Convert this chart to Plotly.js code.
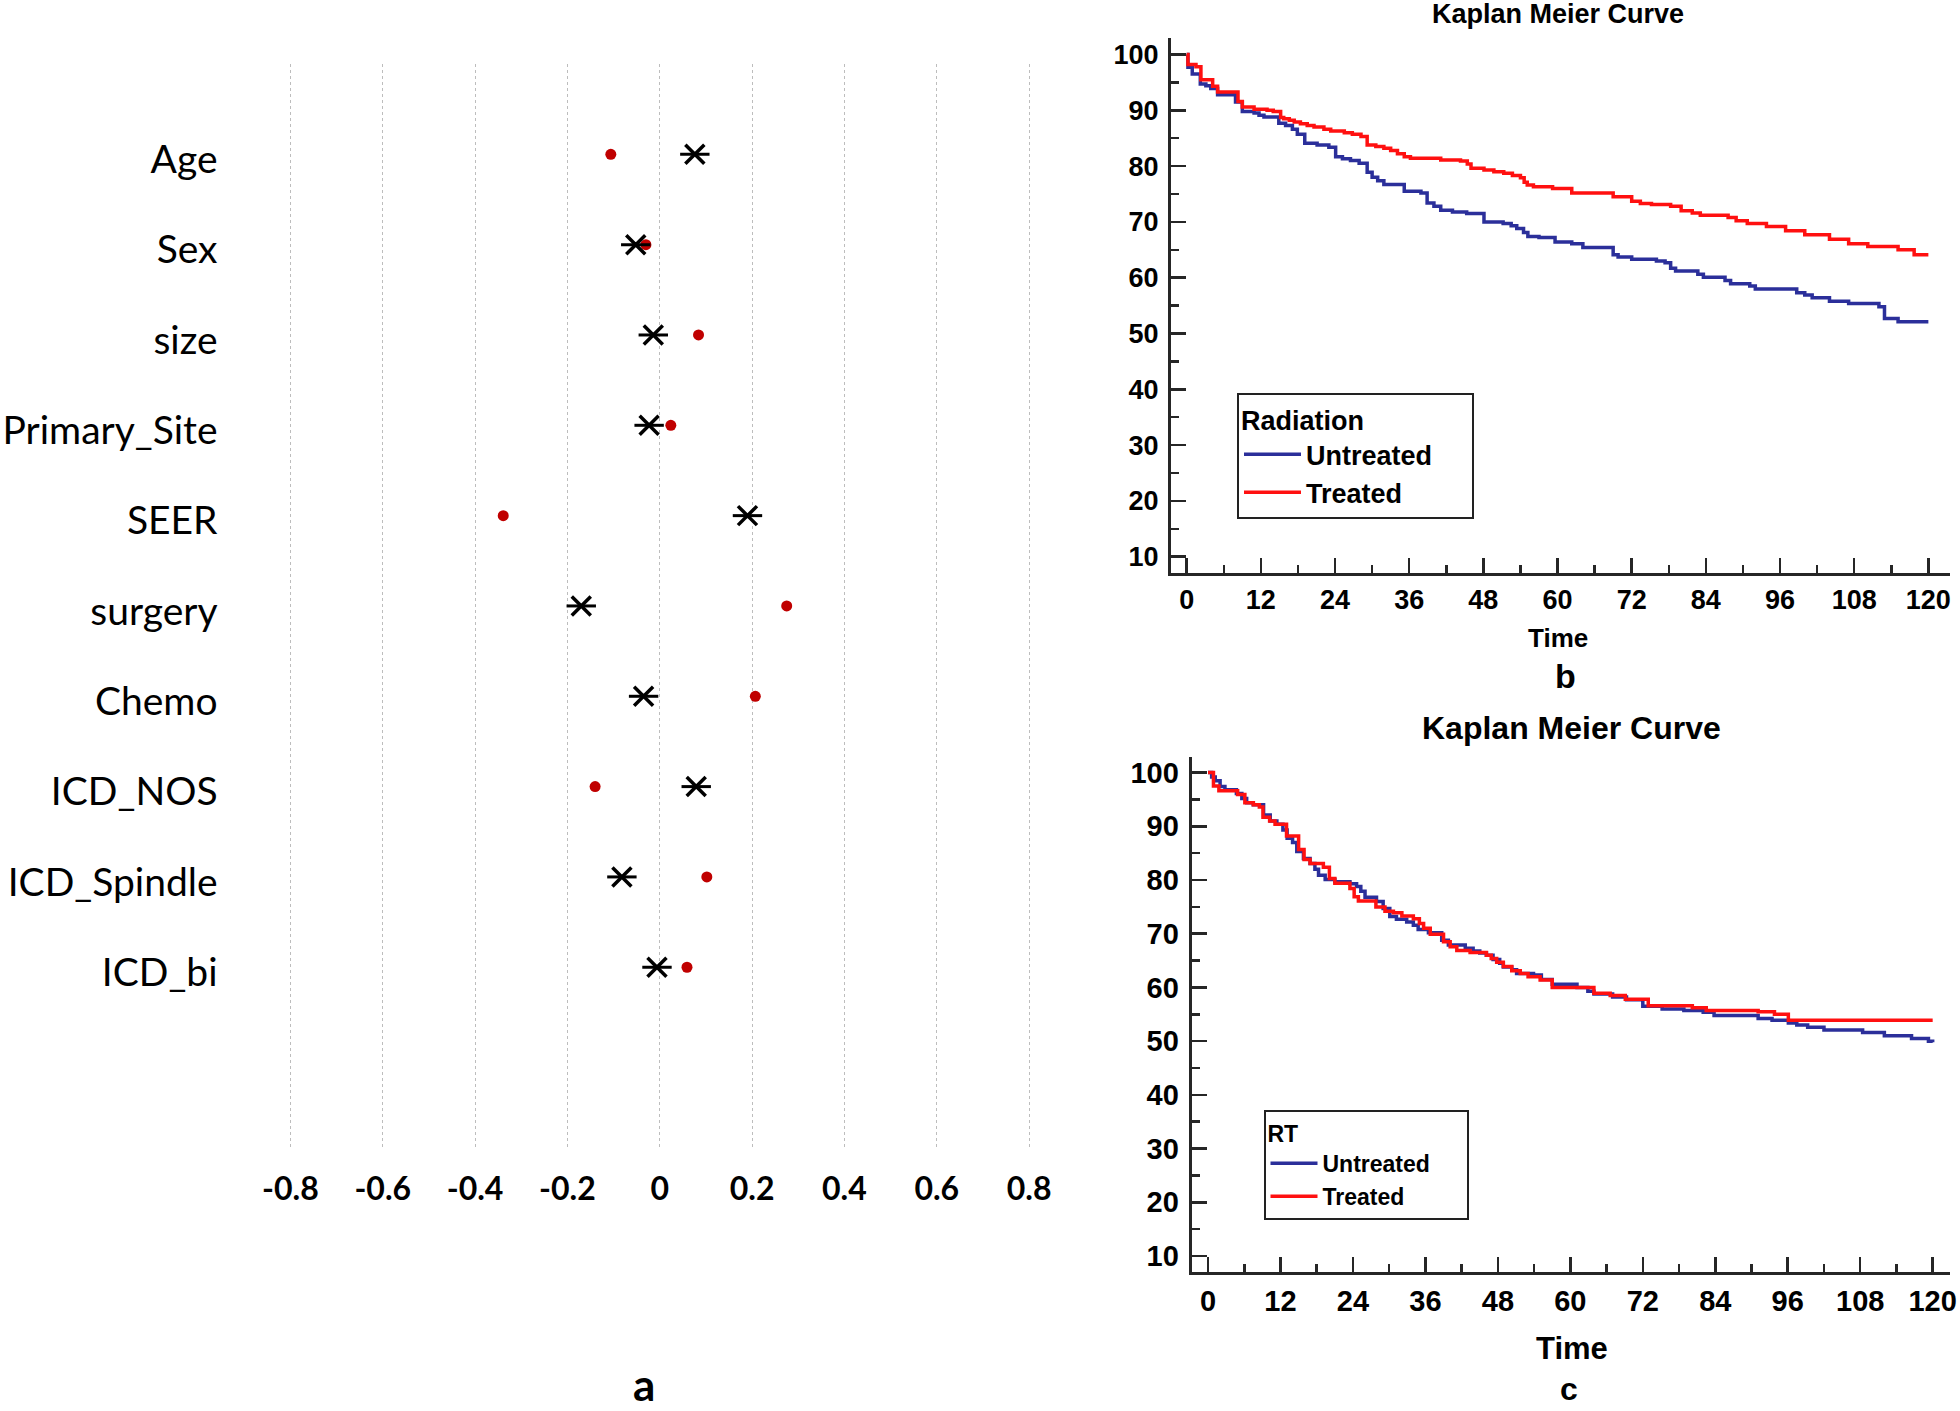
<!DOCTYPE html>
<html>
<head>
<meta charset="utf-8">
<script src="https://cdn.plot.ly/plotly-3.0.1.min.js"></script>
<style>html,body{margin:0;padding:0;background:#fff;}#chart{width:1960px;height:1411px;}</style>
</head>
<body>
<div id="chart"></div>
<script>
// ---------- Panel a data ----------
const categories = ['Age','Sex','size','Primary_Site','SEER','surgery','Chemo','ICD_NOS','ICD_Spindle','ICD_bi'];
const redDotValues = [-0.106,-0.030,0.084,0.024,-0.339,0.275,0.207,-0.140,0.102,0.059];
const crossValues  = [0.076,-0.052,-0.014,-0.023,0.190,-0.170,-0.035,0.079,-0.082,-0.006];
const aTickVals  = [-0.8,-0.6,-0.4,-0.2,0,0.2,0.4,0.6,0.8];
const aTickText  = ['-0.8','-0.6','-0.4','-0.2','0','0.2','0.4','0.6','0.8'];

// ---------- Panel b data (Radiation) ----------
const bUntreatedTime = [0,0.2,0.9,2.2,3.1,3.9,5,7.9,9,10.9,11.7,12.5,14.9,16,17.1,17.9,19.1,21.1,23,24.1,25.2,26.5,27.9,29.2,30,30.9,31.9,35.2,37.9,38.9,40,41.1,43,45.3,48.1,51.2,52.5,53.4,54.5,55.2,57,59.6,62.3,64.1,69,69.8,72,76,77.4,78.3,79.1,82.7,83.6,87.1,88,91.1,92,98.7,100,101.2,104,107.1,112,112.9,115.1,120];
const bUntreatedSurv = [100,97.7,96.5,94.7,94.4,93.9,92.8,91.5,89.8,89.5,89.1,88.8,87.7,87.3,86.6,85.7,84.1,83.8,83.4,81.7,81.3,81,80.5,78.9,78,77.4,76.7,75.5,75.2,73.4,72.8,72.1,71.8,71.5,70,69.7,69.3,68.8,68.1,67.4,67.2,66.4,66.1,65.4,64.1,63.7,63.3,63,62.7,61.7,61.2,60.6,60.1,59.5,58.9,58.5,58,57.3,56.9,56.4,55.8,55.4,54.8,52.7,52.1,52.1];
const bTreatedTime = [0,0.2,1.5,2.3,4.2,5,8.3,9,10.9,13,14,15.2,15.7,16.6,17.4,18.4,19.5,20.6,22.2,23.3,25.5,26.8,28.2,29.2,30.6,31.9,33,34.1,35.2,36.2,41.1,44.3,45.4,46,48.1,49.7,51.3,52.7,54,54.6,55.1,56.1,59.2,62.3,69,72,73.4,75.2,78.3,80,81.8,83.1,87.6,88.9,90.7,93.8,96.9,100,104,107.1,110.2,115.1,117.7,120];
const bTreatedSurv = [100,98.2,97.8,95.5,94.3,93.3,91.6,90.6,90.2,90,89.8,88.7,88.5,88.2,87.9,87.6,87.3,87,86.6,86.3,86,85.7,85.3,83.8,83.5,83.2,82.8,82.2,81.7,81.4,81.1,80.9,80.4,79.6,79.3,79,78.7,78.3,77.9,77.1,76.6,76.3,76,75.2,74.5,73.7,73.3,73.1,72.8,72,71.6,71.2,70.8,70.2,69.7,69.2,68.4,67.7,66.9,66.1,65.6,65,64.1,64.1];

// ---------- Panel c data (RT) ----------
const cUntreatedTime = [0,0.6,1.2,2,2.8,4.7,5.6,6.4,7.5,9.2,10.3,11.4,12.4,13.1,14,14.7,15.8,16.9,17.7,18.3,19.4,21,23.5,24.6,25.3,26,27.9,29,30.1,31.2,32.9,34,34.8,36.5,38.7,39.8,42.6,43.9,45,46.1,47.2,48.3,48.9,50.3,51.1,53.9,55.2,57,61.1,62.9,63.9,67,69.3,72,75.2,78.8,82,83.8,91.1,93.4,96.1,97.5,99.3,102,108.4,112,116.5,119.3,120];
const cUntreatedSurv = [100,99.2,98.5,97.4,96.8,96.1,95.2,94.4,94,92.1,91,90.4,89.3,87.8,87,85.3,84,83.1,82,80.9,80.1,79.7,79.3,78.8,77.9,76.8,76,74.7,73.2,72.7,72.2,71.6,70.8,70.2,68.8,67.9,67.3,66.8,66.4,66,65.2,64.5,63.8,63.3,62.6,62.3,61.5,60.6,60,59.3,58.8,58.2,57.7,56.5,56,55.7,55.4,54.8,54.2,53.9,53.4,53,52.6,52.1,51.6,51,50.5,50,49.8];
const cTreatedTime = [0,0.9,1.8,4.9,6.1,7.5,8.5,9.1,10.2,11.1,13,15,15.9,16.9,19.1,20.1,21,23.5,24.2,24.9,27.8,29.3,30.7,32.1,34,35,35.7,36.8,39,40.1,41.2,43.4,46.1,46.9,47.8,48.9,50.3,51.7,53,55,57,63.9,66.6,69.1,72.9,80.2,82.5,91.1,93.8,96.1,120];
const cTreatedSurv = [100,97.5,96.6,95.9,94.4,94,93.6,91.7,91,90.4,88.2,85.7,83.8,83.1,82.4,80.3,79.4,78.4,76.9,76.1,75,74.2,73.9,73.3,72.8,71.9,71,69.9,68.5,67.6,66.9,66.5,66,65.4,64.7,63.9,63.1,62.6,62,61.4,60,58.9,58.5,57.8,56.6,56.2,55.7,55.5,55,53.9,53.9];

// ---------- layout helpers ----------
const W = 1960, H = 1411;
const px = v => v / W;
const py = v => 1 - v / H;
const BLUE = '#2b2f9a', RED = '#ff1010', AX = '#262626';
const ARIAL = 'Liberation Sans, Arial, sans-serif';
const LATO = 'Lato, Carlito, sans-serif';
const pad = n => '\u00a0'.repeat(n);   // invisible right padding inside legend boxes

const traces = [
  {type:'scatter', mode:'markers', x: redDotValues, y: categories, xaxis:'x', yaxis:'y', showlegend:false,
   marker:{symbol:'circle', size:11, color:'#c00000'}, hoverinfo:'x+y'},
  {type:'scatter', mode:'markers', x: crossValues, y: categories, xaxis:'x', yaxis:'y', showlegend:false,
   marker:{symbol:'x-thin-open', size:19, color:'#000', line:{color:'#000', width:3.5}}, hoverinfo:'x+y'},
  {type:'scatter', mode:'markers', x: crossValues, y: categories, xaxis:'x', yaxis:'y', showlegend:false,
   marker:{symbol:'line-ew-open', size:21, color:'#000', line:{color:'#000', width:3}}, hoverinfo:'skip'},
  {type:'scatter', mode:'lines', name:'Untreated', x: bUntreatedTime, y: bUntreatedSurv, xaxis:'x2', yaxis:'y2',
   line:{shape:'hv', color:BLUE, width:3.5}, legend:'legend'},
  {type:'scatter', mode:'lines', name:'Treated', x: bTreatedTime, y: bTreatedSurv, xaxis:'x2', yaxis:'y2',
   line:{shape:'hv', color:RED, width:3.5}, legend:'legend'},
  {type:'scatter', mode:'lines', name:'Untreated', x: cUntreatedTime, y: cUntreatedSurv, xaxis:'x3', yaxis:'y3',
   line:{shape:'hv', color:BLUE, width:3.5}, legend:'legend2'},
  {type:'scatter', mode:'lines', name:'Treated', x: cTreatedTime, y: cTreatedSurv, xaxis:'x3', yaxis:'y3',
   line:{shape:'hv', color:RED, width:3.5}, legend:'legend2'}
];

function kmX(domain, range, fontSize, standoff, anchor) {
  return {domain, range, anchor, autorange:false, tick0:0, dtick:12,
    showline:true, linewidth:3, linecolor:AX, ticks:'inside', ticklen:15, tickwidth:2.5, tickcolor:AX,
    minor:{dtick:6, ticks:'inside', ticklen:8, tickwidth:2.5, tickcolor:AX, showgrid:false},
    showgrid:false, zeroline:false, ticklabelstandoff:standoff,
    tickfont:{family:ARIAL, size:fontSize, color:'#000', weight:'bold'}, fixedrange:true};
}
function kmY(domain, range, fontSize, standoff, anchor) {
  return {domain, range, anchor, autorange:false, tick0:0, dtick:10,
    showline:true, linewidth:3, linecolor:AX, ticks:'inside', ticklen:15, tickwidth:2.5, tickcolor:AX,
    minor:{dtick:5, ticks:'inside', ticklen:8, tickwidth:2.5, tickcolor:AX, showgrid:false},
    showgrid:false, zeroline:false, ticklabelstandoff:standoff,
    tickfont:{family:ARIAL, size:fontSize, color:'#000', weight:'bold'}, fixedrange:true};
}

const aPerUnit = (1029.1 - 290.4) / 1.6;
const aPad = 0.004;

const layout = {
  width: W, height: H, margin:{l:0, r:0, t:0, b:0, pad:0},
  paper_bgcolor:'#fff', plot_bgcolor:'#fff', showlegend:true,
  font:{family:ARIAL, color:'#000'},
  xaxis:{domain:[px(290.4 - aPad*aPerUnit), px(1029.1 + aPad*aPerUnit)], range:[-0.8 - aPad, 0.8 + aPad], autorange:false, anchor:'y',
    tickmode:'array', tickvals:aTickVals, ticktext:aTickText, showgrid:true, gridcolor:'#bdbdbd', gridwidth:1, griddash:'dot',
    zeroline:false, showline:false, ticks:'', ticklabelstandoff:20,
    tickfont:{family:LATO, size:32, color:'#000', weight:'bold'}, fixedrange:true},
  yaxis:{domain:[py(1147), py(64)], type:'category', categoryarray:categories, range:[10.99, -1], autorange:false, anchor:'x',
    showgrid:false, zeroline:false, showline:false, ticks:'', ticklabelstandoff:70, ticklabelshift:-5,
    tickfont:{family:LATO, size:39, color:'#000'}, fixedrange:true},
  xaxis2: kmX([px(1171), px(1950)], [-2.54, 123.5], 27, 1, 'y2'),
  yaxis2: kmY([py(572.8), py(38)], [7.12, 102.96], 27, 4, 'x2'),
  xaxis3: kmX([px(1191.6), px(1950)], [-2.72, 122.87], 29, 1, 'y3'),
  yaxis3: kmY([py(1272.3), py(756.7)], [6.97, 102.96], 29, 4, 'x3'),
  legend:{x:px(1237), y:py(393), xanchor:'left', yanchor:'top', bgcolor:'#fff', bordercolor:'#222', borderwidth:2,
    title:{text:'Radiation' + pad(14), font:{family:ARIAL, size:27, weight:'bold', color:'#000'}},
    font:{family:ARIAL, size:27, weight:'bold', color:'#000'}, tracegroupgap:0, itemwidth:57},
  legend2:{x:px(1263.5), y:py(1110), xanchor:'left', yanchor:'top', bgcolor:'#fff', bordercolor:'#222', borderwidth:2,
    title:{text:'RT' + pad(26), font:{family:ARIAL, size:23, weight:'bold', color:'#000'}},
    font:{family:ARIAL, size:23, weight:'bold', color:'#000'}, tracegroupgap:0, itemwidth:47},
  annotations:[
    {text:'a', x:px(644), y:py(1384), xref:'paper', yref:'paper', showarrow:false, xanchor:'center', yanchor:'middle',
     font:{family:LATO, size:44, weight:'bold', color:'#000'}},
    {text:'Kaplan Meier Curve', x:px(1558), y:py(14), xref:'paper', yref:'paper', showarrow:false, xanchor:'center', yanchor:'middle',
     font:{family:ARIAL, size:27, weight:'bold', color:'#000'}},
    {text:'Time', x:px(1558), y:py(638), xref:'paper', yref:'paper', showarrow:false, xanchor:'center', yanchor:'middle',
     font:{family:ARIAL, size:26, weight:'bold', color:'#000'}},
    {text:'b', x:px(1565), y:py(676), xref:'paper', yref:'paper', showarrow:false, xanchor:'center', yanchor:'middle',
     font:{family:ARIAL, size:34, weight:'bold', color:'#000'}},
    {text:'Kaplan Meier Curve', x:px(1571), y:py(728), xref:'paper', yref:'paper', showarrow:false, xanchor:'center', yanchor:'middle',
     font:{family:ARIAL, size:32, weight:'bold', color:'#000'}},
    {text:'Time', x:px(1572), y:py(1348), xref:'paper', yref:'paper', showarrow:false, xanchor:'center', yanchor:'middle',
     font:{family:ARIAL, size:31, weight:'bold', color:'#000'}},
    {text:'c', x:px(1569), y:py(1389), xref:'paper', yref:'paper', showarrow:false, xanchor:'center', yanchor:'middle',
     font:{family:ARIAL, size:32, weight:'bold', color:'#000'}}
  ]
};

Plotly.newPlot('chart', traces, layout, {staticPlot:true, displayModeBar:false});
</script>
</body>
</html>
